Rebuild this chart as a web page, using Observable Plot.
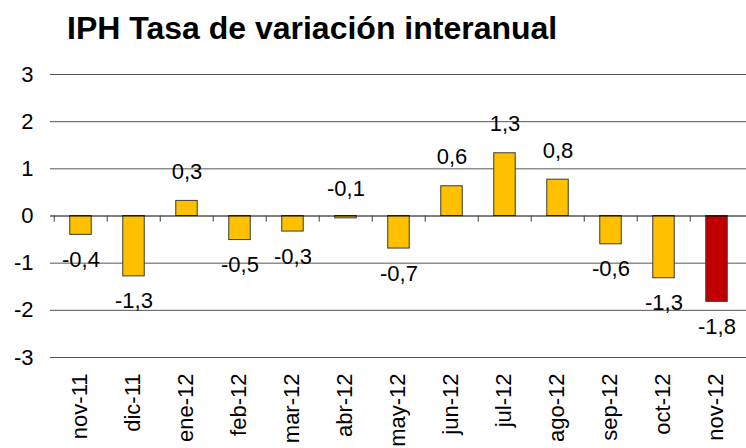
<!DOCTYPE html>
<html>
<head>
<meta charset="utf-8">
<script src="https://cdn.jsdelivr.net/npm/d3@7"></script>
<script src="https://cdn.jsdelivr.net/npm/@observablehq/plot@0.6"></script>
<style>
  html, body { margin: 0; padding: 0; background: #fff; }
  #title { font-family: "Liberation Sans", Arial, sans-serif; font-weight: bold; font-size: 32px; color: #000; padding-left: 67px; height: 55px; line-height: 57px; white-space: nowrap; }
  svg { display: block; }
</style>
</head>
<body>
<div id="title">IPH Tasa de variación interanual</div>
<div id="chart"></div>
<script>
const months = ["nov-11","dic-11","ene-12","feb-12","mar-12","abr-12","may-12","jun-12","jul-12","ago-12","sep-12","oct-12","nov-12"];
const values = [-0.40, -1.28, 0.32, -0.51, -0.33, -0.05, -0.69, 0.63, 1.33, 0.77, -0.60, -1.32, -1.82];
const labels = ["-0,4","-1,3","0,3","-0,5","-0,3","-0,1","-0,7","0,6","1,3","0,8","-0,6","-1,3","-1,8"];
const highlight = ["nov-12"];
const yTicks = [-3, -2, -1, 0, 1, 2, 3];

const data = months.map((m, i) => ({month: m, value: values[i], label: labels[i], hi: highlight.includes(m)}));

const W = 746, H = 393, ML = 50, MR = 0;
const step = (W - ML - MR) / months.length;
const barW = 22;
const inset = (step - barW) / 2;

const chart = Plot.plot({
  width: W,
  height: H,
  marginLeft: ML,
  marginRight: MR,
  marginTop: 19,
  marginBottom: 91,
  style: { fontFamily: "Liberation Sans, Arial, sans-serif", fontSize: "22px", color: "#000", background: "#fff" },
  x: { domain: months, padding: 0, label: null },
  y: { domain: [-3, 3], label: null },
  marks: [
    Plot.ruleY(yTicks.filter(d => d !== 0), { stroke: "#555", strokeWidth: 1, strokeOpacity: 1 }),
    Plot.barY(data, { x: "month", y: "value", fill: d => d.hi ? "#C00000" : "#FFC000", stroke: "#3a3a3a", strokeWidth: 1, insetLeft: inset, insetRight: inset }),
    Plot.ruleY([0], { stroke: "#000", strokeWidth: 1 }),
    Plot.ruleX(months, { x: d => d, y1: 0, y2: -0.13, dx: -step / 2, stroke: "#404040" }),
    Plot.text(data, { x: "month", y: "value", text: "label", fontSize: 22, fill: "#000",
      lineAnchor: "middle",
      filter: d => d.value > -0.1, dy: -29 }),
    Plot.text(data, { x: "month", y: "value", text: "label", fontSize: 22, fill: "#000",
      lineAnchor: "middle",
      filter: d => d.value <= -0.1, dy: 25 }),
    Plot.axisY(yTicks, { tickSize: 0, tickPadding: 17, fontSize: 22, tickFormat: d => String(d), label: null }),
    Plot.axisX(months, { tickSize: 0, tickRotate: -90, tickPadding: 16, fontSize: 22, label: null, dx: -1 })
  ]
});
document.getElementById("chart").appendChild(chart);
</script>
</body>
</html>
